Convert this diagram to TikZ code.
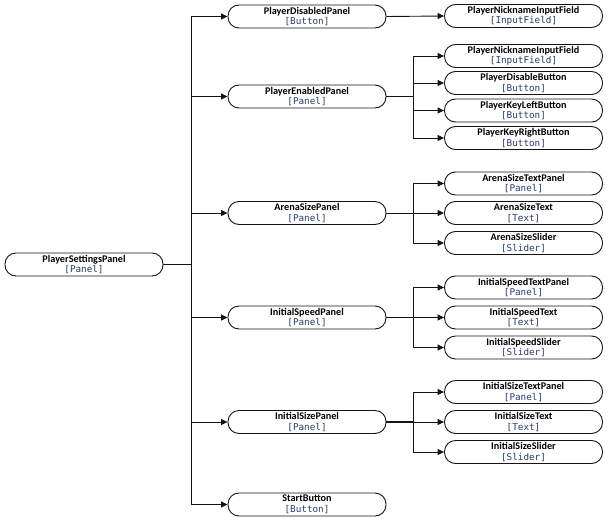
\documentclass[tikz,border=0pt]{standalone}
\usepackage{fontspec}
\setmainfont{Carlito}
\newfontfamily\monof{DejaVu Sans Mono}
\usetikzlibrary{arrows.meta}
\definecolor{typec}{RGB}{40,60,110}
\definecolor{linec}{RGB}{20,20,20}
\tikzset{
  box/.style={draw=linec, line width=0.9pt, rounded corners=11pt, minimum width=158pt, minimum height=23pt, inner sep=0pt, align=center, font=\fontsize{10.2}{11}\selectfont, fill=white},
  conn/.style={draw=linec, line width=0.9pt, -{Triangle[length=6.5pt,width=6pt]}},
  thickc/.style={line width=1.7pt}
}
\newcommand{\lbl}[2]{\textbf{#1}\\[-0.5pt]{\monof\fontsize{9.3}{10}\selectfont\color{typec}[#2]}}
\begin{document}
\begin{tikzpicture}[x=1pt,y=-1pt]
\useasboundingbox (0,0) rectangle (609,524);
% root
\node[box] (root) at (84,264.5) {\lbl{PlayerSettingsPanel}{Panel}};
% middle
\node[box] (pdp) at (307,16.5) {\lbl{PlayerDisabledPanel}{Button}};
\node[box] (pep) at (307,96.5) {\lbl{PlayerEnabledPanel}{Panel}};
\node[box] (asp) at (307,213) {\lbl{ArenaSizePanel}{Panel}};
\node[box] (isp) at (307,317.5) {\lbl{InitialSpeedPanel}{Panel}};
\node[box] (izp) at (307,422) {\lbl{InitialSizePanel}{Panel}};
\node[box] (sb) at (307,504.5) {\lbl{StartButton}{Button}};
% right
\node[box] (r1) at (523.5,16) {\lbl{PlayerNicknameInputField}{InputField}};
\node[box] (r2) at (523.5,56) {\lbl{PlayerNicknameInputField}{InputField}};
\node[box] (r3) at (523.5,83) {\lbl{PlayerDisableButton}{Button}};
\node[box] (r4) at (523.5,110.5) {\lbl{PlayerKeyLeftButton}{Button}};
\node[box] (r5) at (523.5,138) {\lbl{PlayerKeyRightButton}{Button}};
\node[box] (r6) at (523.5,183.5) {\lbl{ArenaSizeTextPanel}{Panel}};
\node[box] (r7) at (523.5,213) {\lbl{ArenaSizeText}{Text}};
\node[box] (r8) at (523.5,243) {\lbl{ArenaSizeSlider}{Slider}};
\node[box] (r9) at (523.5,287.5) {\lbl{InitialSpeedTextPanel}{Panel}};
\node[box] (r10) at (523.5,317.5) {\lbl{InitialSpeedText}{Text}};
\node[box] (r11) at (523.5,347.5) {\lbl{InitialSpeedSlider}{Slider}};
\node[box] (r12) at (523.5,392) {\lbl{InitialSizeTextPanel}{Panel}};
\node[box] (r13) at (523.5,422) {\lbl{InitialSizeText}{Text}};
\node[box] (r14) at (523.5,452) {\lbl{InitialSizeSlider}{Slider}};
% junction coordinates
\coordinate (t0) at (191,264.5);
\coordinate (b2) at (413,96.5);
\coordinate (b3) at (413,213);
\coordinate (b4) at (413,317.5);
\coordinate (b5) at (413,422);
% root connectors
\draw[draw=linec, thickc] (root.east) -- (t0);
\foreach \m in {pdp,pep,asp,isp,izp,sb} \draw[conn] (t0) |- (\m.west);
% group 1
\draw[conn] (pdp.east) -- (r1.west);
% group 2
\draw[draw=linec, thickc] (pep.east) -- (b2);
\foreach \r in {r2,r3,r4,r5} \draw[conn] (b2) |- (\r.west);
% group 3
\draw[draw=linec, line width=0.9pt] (asp.east) -- (b3);
\foreach \r in {r6,r7,r8} \draw[conn] (b3) |- (\r.west);
% group 4
\draw[draw=linec, thickc] (isp.east) -- (b4);
\foreach \r in {r9,r10,r11} \draw[conn] (b4) |- (\r.west);
% group 5
\draw[draw=linec, thickc] (izp.east) -- (b5);
\foreach \r in {r12,r13,r14} \draw[conn] (b5) |- (\r.west);
\end{tikzpicture}
\end{document}
